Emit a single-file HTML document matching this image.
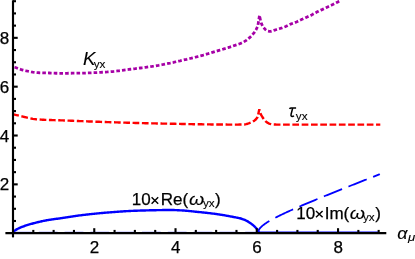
<!DOCTYPE html>
<html><head><meta charset="utf-8"><title>plot</title>
<style>
html,body{margin:0;padding:0;background:#fff;}
body{width:415px;height:259px;overflow:hidden;}
svg{display:block;will-change:transform;}
text{font-family:"Liberation Sans",sans-serif;font-size:17px;fill:#000;stroke:#000;stroke-width:0.25px;}
.it{stroke-width:0.1px;}
.it{font-style:italic;}
.sub{font-size:11.7px;stroke-width:0.12px;}
</style></head><body>
<svg width="415" height="259" viewBox="0 0 415 259">
<rect width="415" height="259" fill="#fff"/>
<!-- zero-valued blue branches lying on the axis (mostly hidden by axis) -->
<line x1="13.0" y1="232.6" x2="258.00" y2="232.6" stroke="#0000ff" stroke-width="1.8" stroke-dasharray="18.8 7" opacity="0.6"/>
<line x1="258.00" y1="232.6" x2="378.67" y2="232.6" stroke="#0000ff" stroke-width="2.4"/>
<!-- curves -->
<path d="M13.00,66.80 L14.65,67.24 L16.31,67.78 L17.96,68.44 L19.62,69.07 L21.27,69.59 L22.93,70.05 L24.58,70.48 L26.23,70.87 L27.89,71.24 L29.54,71.58 L31.20,71.88 L32.85,72.12 L34.51,72.36 L36.16,72.55 L37.82,72.69 L39.47,72.76 L41.12,72.81 L42.78,72.85 L44.43,72.89 L46.09,72.92 L47.74,72.96 L49.40,73.00 L51.05,73.05 L52.70,73.11 L54.36,73.17 L56.01,73.23 L57.67,73.27 L59.32,73.30 L60.98,73.30 L62.63,73.30 L64.29,73.29 L65.94,73.28 L67.59,73.27 L69.25,73.25 L70.90,73.23 L72.56,73.21 L74.21,73.19 L75.87,73.17 L77.52,73.14 L79.17,73.11 L80.83,73.09 L82.48,73.06 L84.14,73.03 L85.79,72.99 L87.45,72.94 L89.10,72.89 L90.76,72.83 L92.41,72.77 L94.06,72.70 L95.72,72.62 L97.37,72.54 L99.03,72.45 L100.68,72.36 L102.34,72.26 L103.99,72.16 L105.64,72.05 L107.30,71.95 L108.95,71.83 L110.61,71.70 L112.26,71.54 L113.92,71.37 L115.57,71.18 L117.22,70.98 L118.88,70.78 L120.53,70.56 L122.19,70.34 L123.84,70.11 L125.50,69.89 L127.15,69.67 L128.81,69.45 L130.46,69.24 L132.11,69.04 L133.77,68.83 L135.42,68.63 L137.08,68.42 L138.73,68.21 L140.39,68.00 L142.04,67.79 L143.69,67.57 L145.35,67.35 L147.00,67.12 L148.66,66.89 L150.31,66.65 L151.97,66.40 L153.62,66.14 L155.28,65.87 L156.93,65.58 L158.58,65.29 L160.24,64.99 L161.89,64.68 L163.55,64.36 L165.20,64.03 L166.86,63.71 L168.51,63.37 L170.16,63.04 L171.82,62.69 L173.47,62.34 L175.13,61.98 L176.78,61.61 L178.44,61.23 L180.09,60.85 L181.74,60.46 L183.40,60.07 L185.05,59.68 L186.71,59.29 L188.36,58.89 L190.02,58.49 L191.67,58.08 L193.33,57.67 L194.98,57.26 L196.63,56.84 L198.29,56.41 L199.94,55.97 L201.60,55.53 L203.25,55.09 L204.91,54.63 L206.56,54.15 L208.21,53.67 L209.87,53.18 L211.52,52.68 L213.18,52.17 L214.83,51.67 L216.49,51.16 L218.14,50.65 L219.80,50.14 L221.45,49.64 L223.10,49.14 L224.76,48.63 L226.41,48.12 L228.07,47.61 L229.72,47.09 L231.38,46.55 L233.03,46.01 L234.68,45.45 L236.34,44.88 L237.99,44.32 L239.65,43.74 L241.30,43.09 L242.96,42.30 L244.61,41.38 L246.27,40.32 L247.92,39.10 L249.57,37.67 L251.23,36.07 L252.88,34.25 L254.54,32.09 L256.19,29.53 L257.85,25.92 L259.50,15.30 L260.52,20.57 L261.55,23.89 L262.57,25.98 L263.60,27.47 L264.62,28.67 L265.64,29.73 L266.67,30.56 L267.69,31.05 L268.72,31.24 L269.74,31.36 L270.76,31.39 L271.79,31.12 L272.81,30.68 L273.84,30.33 L274.86,30.03 L275.88,29.74 L276.91,29.45 L277.93,29.16 L278.96,28.85 L279.98,28.52 L281.01,28.19 L282.03,27.85 L283.05,27.49 L284.08,27.12 L285.10,26.72 L286.13,26.26 L287.15,25.76 L288.17,25.24 L289.20,24.74 L290.22,24.29 L291.25,23.89 L292.27,23.53 L293.29,23.18 L294.32,22.82 L295.34,22.42 L296.37,21.99 L297.39,21.52 L298.41,21.04 L299.44,20.55 L300.46,20.06 L301.49,19.58 L302.51,19.10 L303.53,18.61 L304.56,18.12 L305.58,17.65 L306.61,17.18 L307.63,16.74 L308.65,16.30 L309.68,15.86 L310.70,15.39 L311.73,14.89 L312.75,14.34 L313.77,13.77 L314.80,13.20 L315.82,12.64 L316.85,12.12 L317.87,11.61 L318.89,11.11 L319.92,10.61 L320.94,10.12 L321.97,9.63 L322.99,9.14 L324.02,8.66 L325.04,8.18 L326.06,7.70 L327.09,7.22 L328.11,6.75 L329.14,6.29 L330.16,5.83 L331.18,5.35 L332.21,4.85 L333.23,4.31 L334.26,3.76 L335.28,3.20 L336.30,2.65 L337.33,2.14 L338.35,1.64 L339.38,1.16 L340.40,0.70" fill="none" stroke="#a600a6" stroke-width="2.8" stroke-dasharray="3.6 2.1" stroke-dashoffset="4.1" stroke-linejoin="bevel"/>
<path d="M13.00,114.30 L14.65,114.67 L16.31,115.05 L17.96,115.43 L19.61,115.83 L21.27,116.23 L22.92,116.61 L24.57,117.00 L26.22,117.38 L27.88,117.79 L29.53,118.19 L31.18,118.54 L32.84,118.86 L34.49,119.13 L36.14,119.30 L37.80,119.44 L39.45,119.55 L41.10,119.65 L42.75,119.73 L44.41,119.81 L46.06,119.87 L47.71,119.93 L49.37,119.98 L51.02,120.03 L52.67,120.08 L54.33,120.13 L55.98,120.19 L57.63,120.24 L59.28,120.30 L60.94,120.36 L62.59,120.41 L64.24,120.47 L65.90,120.53 L67.55,120.60 L69.20,120.66 L70.86,120.72 L72.51,120.78 L74.16,120.84 L75.81,120.91 L77.47,120.97 L79.12,121.04 L80.77,121.10 L82.43,121.17 L84.08,121.24 L85.73,121.31 L87.39,121.37 L89.04,121.44 L90.69,121.51 L92.34,121.57 L94.00,121.64 L95.65,121.70 L97.30,121.76 L98.96,121.82 L100.61,121.88 L102.26,121.94 L103.92,122.00 L105.57,122.05 L107.22,122.11 L108.88,122.16 L110.53,122.21 L112.18,122.26 L113.83,122.31 L115.49,122.37 L117.14,122.42 L118.79,122.47 L120.45,122.51 L122.10,122.56 L123.75,122.61 L125.41,122.66 L127.06,122.71 L128.71,122.75 L130.36,122.80 L132.02,122.84 L133.67,122.89 L135.32,122.93 L136.98,122.98 L138.63,123.02 L140.28,123.06 L141.94,123.10 L143.59,123.14 L145.24,123.19 L146.89,123.23 L148.55,123.27 L150.20,123.30 L151.85,123.34 L153.51,123.38 L155.16,123.42 L156.81,123.45 L158.47,123.49 L160.12,123.52 L161.77,123.56 L163.42,123.59 L165.08,123.62 L166.73,123.66 L168.38,123.69 L170.04,123.72 L171.69,123.75 L173.34,123.79 L175.00,123.82 L176.65,123.85 L178.30,123.89 L179.96,123.92 L181.61,123.96 L183.26,124.00 L184.91,124.03 L186.57,124.07 L188.22,124.10 L189.87,124.13 L191.53,124.17 L193.18,124.20 L194.83,124.22 L196.49,124.25 L198.14,124.28 L199.79,124.30 L201.44,124.32 L203.10,124.34 L204.75,124.36 L206.40,124.38 L208.06,124.40 L209.71,124.42 L211.36,124.44 L213.02,124.46 L214.67,124.47 L216.32,124.49 L217.97,124.51 L219.63,124.52 L221.28,124.54 L222.93,124.55 L224.59,124.56 L226.24,124.57 L227.89,124.58 L229.55,124.59 L231.20,124.59 L232.85,124.60 L234.50,124.60 L236.16,124.60 L237.81,124.59 L239.46,124.57 L241.12,124.55 L242.77,124.52 L244.42,124.46 L246.08,124.17 L247.73,123.72 L249.38,123.17 L251.03,122.58 L252.69,121.77 L254.34,120.72 L255.99,119.24 L257.65,117.01 L259.30,109.30 L260.83,114.31 L262.36,116.98 L263.89,119.30 L265.43,121.05 L266.96,122.41 L268.49,123.27 L270.02,123.82 L271.55,124.20 L273.08,124.48 L274.62,124.54 L276.15,124.57 L277.68,124.59 L279.21,124.60 L280.74,124.60 L282.27,124.60 L283.81,124.60 L285.34,124.60 L286.87,124.60 L288.40,124.60 L289.93,124.60 L291.46,124.60 L293.00,124.60 L294.53,124.60 L296.06,124.60 L297.59,124.60 L299.12,124.60 L300.65,124.60 L302.19,124.60 L303.72,124.60 L305.25,124.60 L306.78,124.60 L308.31,124.60 L309.84,124.60 L311.38,124.60 L312.91,124.60 L314.44,124.60 L315.97,124.60 L317.50,124.60 L319.03,124.60 L320.57,124.60 L322.10,124.60 L323.63,124.60 L325.16,124.60 L326.69,124.60 L328.22,124.60 L329.76,124.60 L331.29,124.60 L332.82,124.60 L334.35,124.60 L335.88,124.60 L337.41,124.60 L338.95,124.60 L340.48,124.60 L342.01,124.60 L343.54,124.60 L345.07,124.60 L346.60,124.60 L348.14,124.60 L349.67,124.60 L351.20,124.60 L352.73,124.60 L354.26,124.60 L355.79,124.60 L357.33,124.60 L358.86,124.60 L360.39,124.60 L361.92,124.60 L363.45,124.60 L364.98,124.60 L366.52,124.60 L368.05,124.60 L369.58,124.60 L371.11,124.60 L372.64,124.60 L374.17,124.60 L375.71,124.60 L377.24,124.60 L378.77,124.60 L380.30,124.60" fill="none" stroke="#ff0000" stroke-width="2.4" stroke-dasharray="6.7 2.6" stroke-dashoffset="0.7" stroke-linejoin="bevel"/>
<path d="M13.00,232.50 L13.82,231.48 L14.64,230.72 L15.47,230.14 L16.29,229.63 L17.11,229.15 L17.93,228.71 L18.75,228.30 L19.58,227.91 L20.40,227.54 L21.22,227.20 L22.04,226.88 L22.86,226.57 L23.69,226.28 L24.51,226.00 L25.33,225.72 L26.15,225.45 L26.98,225.19 L27.80,224.93 L28.62,224.68 L29.44,224.43 L30.26,224.19 L31.09,223.95 L31.91,223.72 L32.73,223.50 L33.55,223.28 L34.37,223.07 L35.20,222.85 L36.02,222.64 L36.84,222.44 L37.66,222.23 L38.48,222.03 L39.31,221.84 L40.13,221.64 L40.95,221.46 L41.77,221.27 L42.59,221.10 L43.42,220.93 L44.24,220.76 L45.06,220.60 L45.88,220.45 L46.71,220.30 L47.53,220.16 L48.35,220.02 L49.17,219.89 L49.99,219.77 L50.82,219.64 L51.64,219.52 L52.46,219.40 L53.28,219.28 L54.10,219.16 L54.93,219.05 L55.75,218.93 L56.57,218.81 L57.39,218.69 L58.21,218.57 L59.04,218.44 L59.86,218.32 L60.68,218.20 L61.50,218.07 L62.32,217.95 L63.15,217.82 L63.97,217.70 L64.79,217.57 L65.61,217.44 L66.43,217.32 L67.26,217.19 L68.08,217.07 L68.90,216.94 L69.72,216.82 L70.55,216.70 L71.37,216.57 L72.19,216.45 L73.01,216.33 L73.83,216.21 L74.66,216.10 L75.48,215.98 L76.30,215.87 L77.12,215.75 L77.94,215.64 L78.77,215.53 L79.59,215.42 L80.41,215.32 L81.23,215.21 L82.05,215.11 L82.88,215.01 L83.70,214.92 L84.52,214.82 L85.34,214.73 L86.16,214.63 L86.99,214.54 L87.81,214.45 L88.63,214.36 L89.45,214.26 L90.27,214.18 L91.10,214.09 L91.92,214.00 L92.74,213.91 L93.56,213.83 L94.39,213.74 L95.21,213.66 L96.03,213.58 L96.85,213.49 L97.67,213.41 L98.50,213.33 L99.32,213.26 L100.14,213.18 L100.96,213.10 L101.78,213.03 L102.61,212.95 L103.43,212.88 L104.25,212.81 L105.07,212.74 L105.89,212.67 L106.72,212.60 L107.54,212.54 L108.36,212.47 L109.18,212.41 L110.00,212.34 L110.83,212.28 L111.65,212.21 L112.47,212.15 L113.29,212.08 L114.12,212.02 L114.94,211.96 L115.76,211.90 L116.58,211.83 L117.40,211.77 L118.23,211.71 L119.05,211.65 L119.87,211.60 L120.69,211.54 L121.51,211.48 L122.34,211.43 L123.16,211.37 L123.98,211.32 L124.80,211.27 L125.62,211.22 L126.45,211.17 L127.27,211.12 L128.09,211.08 L128.91,211.03 L129.73,210.99 L130.56,210.95 L131.38,210.91 L132.20,210.87 L133.02,210.84 L133.84,210.81 L134.67,210.77 L135.49,210.74 L136.31,210.71 L137.13,210.69 L137.96,210.66 L138.78,210.63 L139.60,210.60 L140.42,210.57 L141.24,210.55 L142.07,210.52 L142.89,210.50 L143.71,210.47 L144.53,210.45 L145.35,210.43 L146.18,210.41 L147.00,210.38 L147.82,210.36 L148.64,210.34 L149.46,210.32 L150.29,210.30 L151.11,210.28 L151.93,210.27 L152.75,210.25 L153.57,210.23 L154.40,210.21 L155.22,210.20 L156.04,210.18 L156.86,210.17 L157.68,210.16 L158.51,210.14 L159.33,210.13 L160.15,210.11 L160.97,210.10 L161.80,210.09 L162.62,210.07 L163.44,210.06 L164.26,210.05 L165.08,210.04 L165.91,210.03 L166.73,210.02 L167.55,210.01 L168.37,210.00 L169.19,210.00 L170.02,210.00 L170.84,210.00 L171.66,210.01 L172.48,210.03 L173.30,210.05 L174.13,210.07 L174.95,210.10 L175.77,210.13 L176.59,210.16 L177.41,210.20 L178.24,210.24 L179.06,210.28 L179.88,210.33 L180.70,210.37 L181.53,210.42 L182.35,210.46 L183.17,210.51 L183.99,210.56 L184.81,210.62 L185.64,210.68 L186.46,210.75 L187.28,210.83 L188.10,210.91 L188.92,210.99 L189.75,211.08 L190.57,211.16 L191.39,211.25 L192.21,211.34 L193.03,211.43 L193.86,211.52 L194.68,211.61 L195.50,211.69 L196.32,211.77 L197.14,211.85 L197.97,211.94 L198.79,212.02 L199.61,212.10 L200.43,212.18 L201.25,212.27 L202.08,212.35 L202.90,212.44 L203.72,212.52 L204.54,212.61 L205.37,212.70 L206.19,212.79 L207.01,212.89 L207.83,212.98 L208.65,213.08 L209.48,213.17 L210.30,213.27 L211.12,213.37 L211.94,213.48 L212.76,213.58 L213.59,213.68 L214.41,213.79 L215.23,213.90 L216.05,214.01 L216.87,214.12 L217.70,214.24 L218.52,214.36 L219.34,214.48 L220.16,214.60 L220.98,214.72 L221.81,214.85 L222.63,214.99 L223.45,215.13 L224.27,215.27 L225.09,215.42 L225.92,215.56 L226.74,215.71 L227.56,215.87 L228.38,216.02 L229.21,216.18 L230.03,216.33 L230.85,216.49 L231.67,216.65 L232.49,216.80 L233.32,216.96 L234.14,217.11 L234.96,217.26 L235.78,217.41 L236.60,217.56 L237.43,217.72 L238.25,217.89 L239.07,218.07 L239.89,218.27 L240.71,218.50 L241.54,218.74 L242.36,219.02 L243.18,219.31 L244.00,219.63 L244.82,219.97 L245.65,220.34 L246.47,220.73 L247.29,221.16 L248.11,221.64 L248.94,222.15 L249.76,222.70 L250.58,223.28 L251.40,223.89 L252.22,224.52 L253.05,225.19 L253.87,225.91 L254.69,226.69 L255.51,227.53 L256.33,228.41 L257.16,229.31 L257.98,230.41 L258.80,232.50" fill="none" stroke="#0000ff" stroke-width="2.4" stroke-linejoin="round"/>
<path d="M258.00,232.90 L258.61,230.32 L259.22,229.24 L259.84,228.40 L260.45,227.68 L261.06,227.04 L261.67,226.45 L262.29,225.91 L262.90,225.40 L263.51,224.91 L264.12,224.45 L264.74,224.01 L265.35,223.57 L265.96,223.16 L266.57,222.75 L267.19,222.36 L267.80,221.97 L268.41,221.60 L269.02,221.23 L269.64,220.87 L270.25,220.51 L270.86,220.16 L271.47,219.81 L272.09,219.47 L272.70,219.14 L273.31,218.81 L273.92,218.48 L274.54,218.15 L275.15,217.83 L275.76,217.52 L276.37,217.20 L276.99,216.89 L277.60,216.58 L278.21,216.27 L278.82,215.97 L279.44,215.67 L280.05,215.37 L280.66,215.07 L281.27,214.78 L281.89,214.48 L282.50,214.19 L283.11,213.90 L283.72,213.61 L284.34,213.32 L284.95,213.04 L285.56,212.75 L286.17,212.47 L286.79,212.19 L287.40,211.91 L288.01,211.63 L288.62,211.35 L289.24,211.07 L289.85,210.79 L290.46,210.52 L291.07,210.24 L291.69,209.97 L292.30,209.70 L292.91,209.43 L293.52,209.16 L294.14,208.89 L294.75,208.62 L295.36,208.35 L295.97,208.08 L296.59,207.81 L297.20,207.55 L297.81,207.28 L298.42,207.02 L299.04,206.75 L299.65,206.49 L300.26,206.22 L300.87,205.96 L301.49,205.70 L302.10,205.44 L302.71,205.18 L303.32,204.92 L303.94,204.66 L304.55,204.40 L305.16,204.14 L305.77,203.88 L306.39,203.62 L307.00,203.36 L307.61,203.11 L308.22,202.85 L308.84,202.59 L309.45,202.34 L310.06,202.08 L310.67,201.83 L311.29,201.57 L311.90,201.32 L312.51,201.06 L313.13,200.81 L313.74,200.56 L314.35,200.30 L314.96,200.05 L315.58,199.80 L316.19,199.54 L316.80,199.29 L317.41,199.04 L318.03,198.79 L318.64,198.54 L319.25,198.29 L319.86,198.04 L320.48,197.79 L321.09,197.54 L321.70,197.29 L322.31,197.04 L322.93,196.79 L323.54,196.54 L324.15,196.29 L324.76,196.04 L325.38,195.79 L325.99,195.54 L326.60,195.30 L327.21,195.05 L327.83,194.80 L328.44,194.55 L329.05,194.31 L329.66,194.06 L330.28,193.81 L330.89,193.56 L331.50,193.32 L332.11,193.07 L332.73,192.83 L333.34,192.58 L333.95,192.33 L334.56,192.09 L335.18,191.84 L335.79,191.60 L336.40,191.35 L337.01,191.11 L337.63,190.86 L338.24,190.62 L338.85,190.37 L339.46,190.13 L340.08,189.88 L340.69,189.64 L341.30,189.40 L341.91,189.15 L342.53,188.91 L343.14,188.66 L343.75,188.42 L344.36,188.18 L344.98,187.93 L345.59,187.69 L346.20,187.45 L346.81,187.20 L347.43,186.96 L348.04,186.72 L348.65,186.48 L349.26,186.23 L349.88,185.99 L350.49,185.75 L351.10,185.51 L351.71,185.26 L352.33,185.02 L352.94,184.78 L353.55,184.54 L354.16,184.30 L354.78,184.06 L355.39,183.81 L356.00,183.57 L356.61,183.33 L357.23,183.09 L357.84,182.85 L358.45,182.61 L359.06,182.37 L359.68,182.13 L360.29,181.88 L360.90,181.64 L361.51,181.40 L362.13,181.16 L362.74,180.92 L363.35,180.68 L363.96,180.44 L364.58,180.20 L365.19,179.96 L365.80,179.72 L366.41,179.48 L367.03,179.24 L367.64,179.00 L368.25,178.76 L368.86,178.52 L369.48,178.28 L370.09,178.04 L370.70,177.80 L371.31,177.56 L371.93,177.32 L372.54,177.08 L373.15,176.84 L373.76,176.61 L374.38,176.37 L374.99,176.13 L375.60,175.89 L376.21,175.65 L376.83,175.41 L377.44,175.17 L378.05,174.93 L378.66,174.69 L379.28,174.45 L379.89,174.22" fill="none" stroke="#0000ff" stroke-width="1.8" stroke-dasharray="19.6 6.9" stroke-dashoffset="2.6"/>
<!-- axes -->
<g stroke="#000" stroke-width="2.15" fill="none">
<line x1="13.0" y1="0.3" x2="13.0" y2="237.4"/>
<line x1="5.4" y1="233.15" x2="386.3" y2="233.15"/>
</g>
<g stroke="#000" stroke-width="2.1">
<line x1="13.00" y1="220.99" x2="16.00" y2="220.99"/>
<line x1="13.00" y1="208.78" x2="16.00" y2="208.78"/>
<line x1="13.00" y1="196.57" x2="16.00" y2="196.57"/>
<line x1="13.00" y1="184.36" x2="17.70" y2="184.36"/>
<line x1="13.00" y1="172.15" x2="16.00" y2="172.15"/>
<line x1="13.00" y1="159.94" x2="16.00" y2="159.94"/>
<line x1="13.00" y1="147.73" x2="16.00" y2="147.73"/>
<line x1="13.00" y1="135.52" x2="17.70" y2="135.52"/>
<line x1="13.00" y1="123.31" x2="16.00" y2="123.31"/>
<line x1="13.00" y1="111.10" x2="16.00" y2="111.10"/>
<line x1="13.00" y1="98.89" x2="16.00" y2="98.89"/>
<line x1="13.00" y1="86.68" x2="17.70" y2="86.68"/>
<line x1="13.00" y1="74.47" x2="16.00" y2="74.47"/>
<line x1="13.00" y1="62.26" x2="16.00" y2="62.26"/>
<line x1="13.00" y1="50.05" x2="16.00" y2="50.05"/>
<line x1="13.00" y1="37.84" x2="17.70" y2="37.84"/>
<line x1="13.00" y1="25.63" x2="16.00" y2="25.63"/>
<line x1="13.00" y1="13.42" x2="16.00" y2="13.42"/>
<line x1="13.00" y1="1.21" x2="16.00" y2="1.21"/>
<line x1="33.31" y1="232.90" x2="33.31" y2="229.90"/>
<line x1="53.63" y1="232.90" x2="53.63" y2="229.90"/>
<line x1="73.95" y1="232.90" x2="73.95" y2="229.90"/>
<line x1="94.26" y1="232.90" x2="94.26" y2="228.20"/>
<line x1="114.58" y1="232.90" x2="114.58" y2="229.90"/>
<line x1="134.89" y1="232.90" x2="134.89" y2="229.90"/>
<line x1="155.21" y1="232.90" x2="155.21" y2="229.90"/>
<line x1="175.52" y1="232.90" x2="175.52" y2="228.20"/>
<line x1="195.84" y1="232.90" x2="195.84" y2="229.90"/>
<line x1="216.15" y1="232.90" x2="216.15" y2="229.90"/>
<line x1="236.47" y1="232.90" x2="236.47" y2="229.90"/>
<line x1="256.78" y1="232.90" x2="256.78" y2="228.20"/>
<line x1="277.10" y1="232.90" x2="277.10" y2="229.90"/>
<line x1="297.41" y1="232.90" x2="297.41" y2="229.90"/>
<line x1="317.73" y1="232.90" x2="317.73" y2="229.90"/>
<line x1="338.04" y1="232.90" x2="338.04" y2="228.20"/>
<line x1="358.36" y1="232.90" x2="358.36" y2="229.90"/>
<line x1="378.67" y1="232.90" x2="378.67" y2="229.90"/>
</g>
<text x="9.3" y="190.36" text-anchor="end">2</text>
<text x="9.3" y="141.52" text-anchor="end">4</text>
<text x="9.3" y="92.68" text-anchor="end">6</text>
<text x="9.3" y="43.84" text-anchor="end">8</text>
<text x="94.56" y="252.8" text-anchor="middle">2</text>
<text x="175.82" y="252.8" text-anchor="middle">4</text>
<text x="257.08" y="252.8" text-anchor="middle">6</text>
<text x="338.34" y="252.8" text-anchor="middle">8</text>
<text class="it" transform="translate(83.1,64.6) scale(1.1,1.08)" x="0" y="0">K</text><text class="sub" x="93.7" y="68.1">yx</text>
<path d="M289.5,108.9 Q290,107.9 291.2,107.9 L296.1,107.9 M292.7,108 L291.1,114.3 Q290.6,116.5 292.3,116.5 Q293.2,116.5 293.9,115.8" fill="none" stroke="#000" stroke-width="1.5"/><text class="sub" x="295.8" y="120.2">yx</text>
<text x="131.7" y="205.3">10</text>
<path d="M151.60,197.30 L158.20,203.70 M151.60,203.70 L158.20,197.30" stroke="#000" stroke-width="1.45" fill="none"/>
<text x="160.8" y="205.3">Re</text>
<text x="182.55" y="205.3">(</text>
<text class="it" transform="translate(189.0,205.3) scale(1.15,1)" x="0" y="0">ω</text>
<text class="sub" x="203.0" y="207.10">yx</text>
<text x="214.9" y="205.3">)</text>
<text x="296.3" y="218.9">10</text>
<path d="M316.00,210.90 L322.60,217.30 M316.00,217.30 L322.60,210.90" stroke="#000" stroke-width="1.45" fill="none"/>
<text x="324.7" y="218.9">Im</text>
<text x="343.5" y="218.9">(</text>
<text class="it" transform="translate(349.8,218.9) scale(1.15,1)" x="0" y="0">ω</text>
<text class="sub" x="363.0" y="221.10">yx</text>
<text x="375.3" y="218.9">)</text>
<text class="it" transform="translate(397.2,238.5) scale(1.06,1)" x="0" y="0">α</text><text class="it" style="font-size:11.4px" transform="translate(407.9,240.9) scale(1.15,1)" x="0" y="0">μ</text>
</svg>
</body></html>
